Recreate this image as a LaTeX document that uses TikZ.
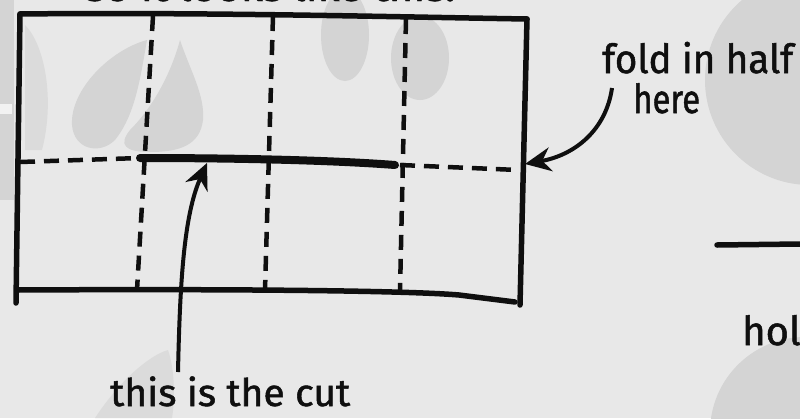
\documentclass[tikz,border=0pt]{standalone}
\usepackage{fontspec}
\newfontfamily\hand[FakeBold=1.3]{Fira Sans}
\usetikzlibrary{arrows.meta}
\definecolor{paper}{gray}{0.91}
\definecolor{blob}{gray}{0.83}
\definecolor{blobl}{gray}{0.86}
\definecolor{notch}{gray}{0.95}
\definecolor{ink}{gray}{0.06}
\begin{document}
\begin{tikzpicture}[x=1pt,y=-1pt,
  inkline/.style={line width=5.5pt, line cap=round, line join=round, draw=ink},
  foldline/.style={line width=4.5pt, dash pattern=on 15pt off 9pt, draw=ink},
  cutline/.style={line width=8pt, line cap=round, draw=ink},
  handtext/.style={font=\hand\fontsize{40}{44}\selectfont, inner sep=0pt, anchor=base west, text=ink},
  pointer/.style={line width=4pt, draw=ink, -{Stealth[length=26pt,width=24pt]}}]
\useasboundingbox (0,0) rectangle (800,418);
\clip (0,0) rectangle (800,418);
\fill[paper] (0,0) rectangle (800,418);
% background blobs
\fill[blob] (810,80) circle[radius=105pt];
\fill[blob] (805,432) circle[radius=95pt];
\fill[blob] (0,0) rectangle (14,200);
\fill[notch] (0,104) rectangle (12,114);
\fill[blobl] (25,25) .. controls (45,45) and (55,100) .. (42,150) -- (25,150) -- cycle;
\fill[blob] (147,40) .. controls (110,50) and (70,90) .. (72,125) .. controls (74,150) and (100,155) .. (115,140) .. controls (135,115) and (140,80) .. (147,40) -- cycle;
\fill[blob] (180,40) .. controls (190,70) and (205,95) .. (203,120) .. controls (200,145) and (180,152) .. (150,152) .. controls (125,152) and (118,145) .. (130,130) .. controls (155,105) and (172,70) .. (180,40) -- cycle;
\fill[blob] (345,35) ellipse[x radius=24pt, y radius=46pt];
\fill[blob] (420,58) ellipse[x radius=29pt, y radius=42pt];
\fill[blobl] (95,418) .. controls (120,380) and (150,355) .. (168,350) .. controls (175,370) and (175,400) .. (172,418) -- cycle;
% corners of the sheet
\coordinate (tl) at (20,14);
\coordinate (tr) at (527,19);
\coordinate (bl) at (16,303);
\coordinate (br) at (520,305);
% the sheet
\draw[inkline] (tl) .. controls (200,12) and (400,17) .. (tr);
\draw[inkline] (tl) -- (bl);
\draw[inkline] (tr) -- (br);
\draw[inkline] (18,290) .. controls (200,289) and (400,290) .. (459,295) -- (515,302);
% fold lines
\draw[foldline] (153,16) -- (137,290);
\draw[foldline] (273,16) -- (265,290);
\draw[foldline] (406,19) -- (400,292);
\draw[foldline] (20,162) -- (140,158);
\draw[foldline] (400,165) -- (518,170);
% the cut
\coordinate (cuta) at (140,158);
\coordinate (cutb) at (395,165);
\draw[cutline] (cuta) .. controls (230,158) and (330,160) .. (cutb);
% labels
\node[handtext] (fold) at (602,73) {\resizebox{191pt}{\height}{fold in half}};
\node[handtext] (here) at (633,113) {\resizebox{67pt}{\height}{here}};
\node[handtext, font=\hand\fontsize{38}{42}\selectfont] (cut) at (110,406) {\resizebox{240pt}{\height}{this is the cut}};
\node[handtext] (hol) at (742,345) {hol};
\node[handtext, font=\hand\fontsize{34}{40}\selectfont] (top) at (85,1) {\resizebox{370pt}{\height}{so it looks like this:}};
% pointers
\coordinate (foldstart) at (612,88);
\coordinate (foldtip) at (525,164);
\coordinate (cutstart) at (178,372);
\coordinate (cuttip) at (207,163);
\draw[pointer] (foldstart) .. controls (606,130) and (575,155) .. (foldtip);
\draw[pointer] (cutstart) .. controls (180,280) and (184,215) .. (cuttip);
% stray line at right
\coordinate (rl) at (717,245);
\coordinate (rr) at (800,244);
\draw[line width=5.5pt, draw=ink, line cap=round] (rl) -- (rr);
\end{tikzpicture}
\end{document}
